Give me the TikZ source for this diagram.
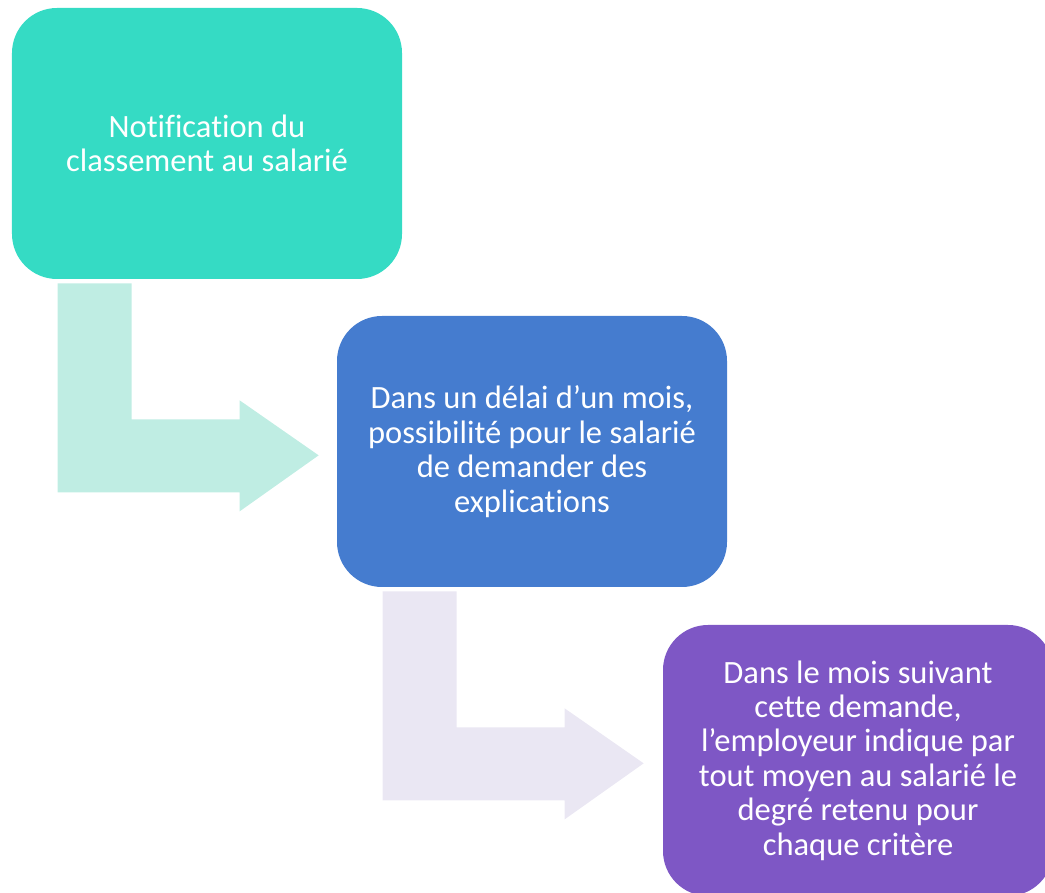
\documentclass[tikz,border=0pt]{standalone}
\usepackage{fontspec}
\setmainfont{Carlito}[Ligatures=NoCommon]
\usepackage{tikz}
\usetikzlibrary{positioning, calc}

\definecolor{tealbox}{HTML}{35DBC4}
\definecolor{tealarrow}{HTML}{BFEDE3}
\definecolor{bluebox}{HTML}{457CCF}
\definecolor{lilacarrow}{HTML}{EAE7F3}
\definecolor{purplebox}{HTML}{7E57C5}

\begin{document}
\begin{tikzpicture}[
  stepbox/.style={rectangle, rounded corners=0.9cm, minimum width=7.8cm, minimum height=5.42cm,
    align=center, text=white, font=\fontsize{18.5}{19.6}\selectfont},
]
\useasboundingbox (0,0) rectangle (20.9,17.84);
\clip (0,0) rectangle (20.9,17.84);

% Etapes
\node[stepbox, fill=tealbox] (notif) at (4.14,14.97) {Notification du\\classement au salarié};
\node[stepbox, fill=bluebox] (delai) at (10.64,8.81) {Dans un délai d’un mois,\\possibilité pour le salarié\\de demander des\\explications};
\node[stepbox, fill=purplebox] (reponse) at (17.16,2.63) {Dans le mois suivant\\cette demande,\\l’employeur indique par\\tout moyen au salarié le\\degré retenu pour\\chaque critère};

% Flèches coudées
\fill[tealarrow] ([shift={(0.92,-0.08)}]notif.south west) -- ++(1.48,0) -- ++(0,-2.72) -- ++(2.16,0)
  -- ++(0,0.38) -- ++(1.58,-1.1) -- ++(-1.58,-1.12) -- ++(0,0.38) -- ++(-3.64,0) -- cycle;
\fill[lilacarrow] ([shift={(0.92,-0.08)}]delai.south west) -- ++(1.48,0) -- ++(0,-2.72) -- ++(2.16,0)
  -- ++(0,0.38) -- ++(1.58,-1.1) -- ++(-1.58,-1.12) -- ++(0,0.38) -- ++(-3.64,0) -- cycle;

\end{tikzpicture}
\end{document}
